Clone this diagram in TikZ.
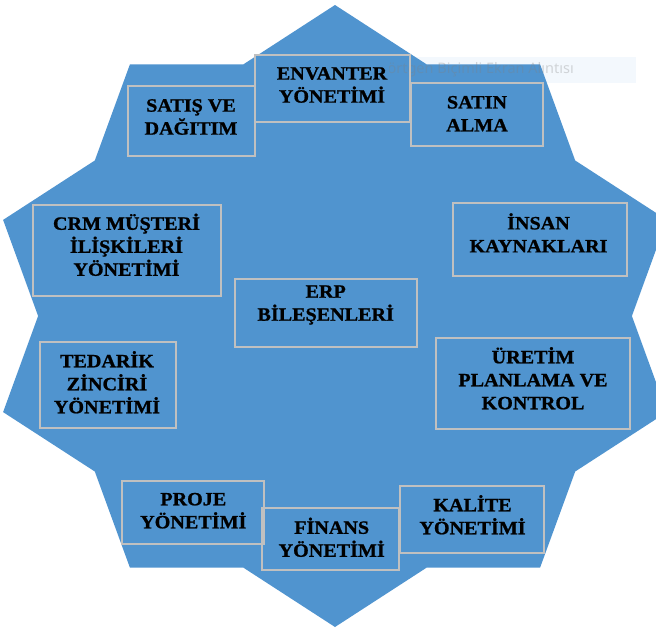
\documentclass[tikz,border=0pt]{standalone}
\usepackage{fontspec}
\setmainfont[FakeStretch=1.06]{Liberation Serif}
\newfontfamily\lblfont[FakeStretch=1.07,FakeBold=1.0]{Liberation Serif Bold}
\newfontfamily\uifont{Noto Sans}
\definecolor{starblue}{RGB}{80,148,207}
\definecolor{boxgray}{RGB}{192,192,192}
\definecolor{tipbg}{RGB}{243,248,253}
\begin{document}
\begin{tikzpicture}[x=1pt,y=-1pt,
  box/.style={draw=boxgray, line width=1.4pt, inner sep=0pt},
  lbl/.style={font=\lblfont\fontsize{18.8}{23}\selectfont, align=center, text=black, inner sep=0pt},
  tiptext/.style={font=\uifont\fontsize{14.5}{16}\selectfont, text=gray, opacity=0.3, inner sep=0pt}]
\useasboundingbox (0,0) rectangle (656,632);
\clip (0,0) rectangle (656,632);
% faint tooltip background
\fill[tipbg] (330,57) rectangle (636,83);
% ten-pointed star
\fill[starblue] (335,5) -- (243.3,64.4) -- (129.9,64.4) -- (94.8,160.5) -- (3.1,219.9)
  -- (38.1,316) -- (3.1,412.1) -- (94.8,471.5) -- (129.9,567.6) -- (243.3,567.6)
  -- (335,627) -- (426.7,567.6) -- (540.1,567.6) -- (575.2,471.5) -- (666.9,412.1)
  -- (631.9,316) -- (666.9,219.9) -- (575.2,160.5) -- (540.1,64.4) -- (426.7,64.4) -- cycle;
% faint tooltip text, partly hidden behind the ENVANTER label
\begin{scope}
\clip (389,57) rectangle (636,83);
\node[tiptext, anchor=east] (tip) at (574,70) {Dikdörtgen Biçimli Ekran Alıntısı};
\end{scope}
% boxes
\node[box, minimum width=155, minimum height=67] (env) at (332.5,88.5) {};
\node[box, minimum width=132, minimum height=63] (satin) at (477,114.5) {};
\node[box, minimum width=127, minimum height=70] (satis) at (191.5,121) {};
\node[box, minimum width=188, minimum height=91] (crm) at (127,250.5) {};
\node[box, minimum width=136, minimum height=86] (ted) at (108,385) {};
\node[box, minimum width=182, minimum height=68] (erp) at (326,313) {};
\node[box, minimum width=174, minimum height=73] (insan) at (540,239.5) {};
\node[box, minimum width=194, minimum height=91] (uretim) at (533,383.5) {};
\node[box, minimum width=142, minimum height=63] (proje) at (193,512.5) {};
\node[box, minimum width=137, minimum height=62] (finans) at (330.5,539) {};
\node[box, minimum width=144, minimum height=67] (kalite) at (472,519.5) {};
% labels
\node[lbl] (tenv) at (332,85) {ENVANTER\\YÖNETİMİ};
\node[lbl] (tsatin) at (477,113.7) {SATIN\\ALMA};
\node[lbl] (tsatis) at (191,117) {SATIŞ VE\\DAĞITIM};
\node[lbl] (tcrm) at (126.5,244.8) {CRM MÜŞTERİ\\İLİŞKİLERİ\\YÖNETİMİ};
\node[lbl] (tted) at (107,382.3) {TEDARİK\\ZİNCİRİ\\YÖNETİMİ};
\node[lbl] (terp) at (325.7,305) {ERP\\BİLEŞENLERİ};
\node[lbl] (tinsan) at (538.5,232.8) {İNSAN\\KAYNAKLARI};
\node[lbl] (turetim) at (533,378.3) {ÜRETİM\\PLANLAMA VE\\KONTROL};
\node[lbl] (tproje) at (193.3,510.7) {PROJE\\YÖNETİMİ};
\node[lbl] (tfinans) at (331.7,537.3) {FİNANS\\YÖNETİMİ};
\node[lbl] (tkalite) at (472.5,514.8) {KALİTE\\YÖNETİMİ};
\end{tikzpicture}
\end{document}
